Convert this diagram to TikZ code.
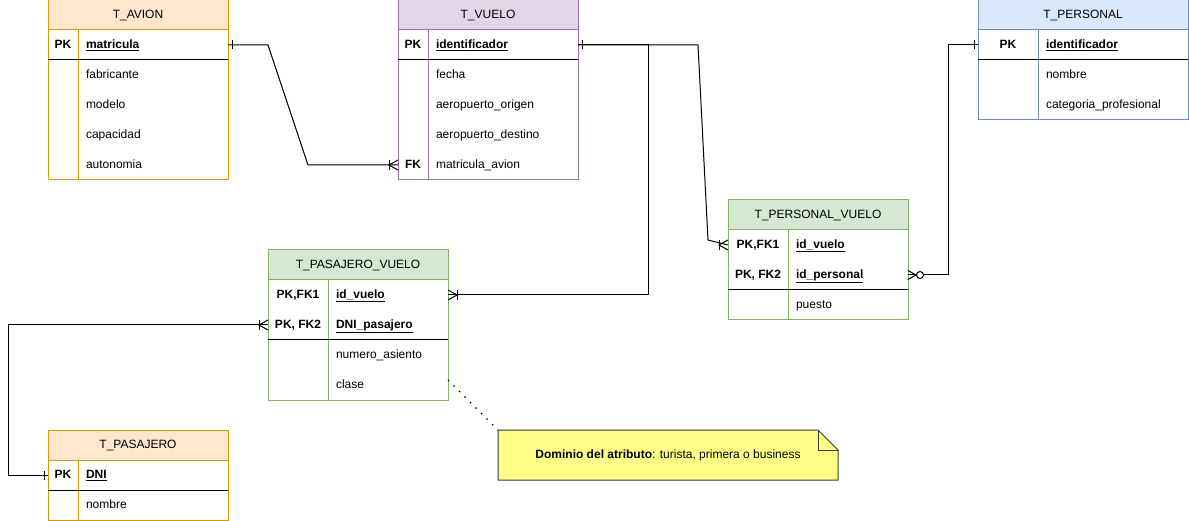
\documentclass[tikz,border=0pt]{standalone}
\usepackage{fontspec}
\setmainfont{Liberation Sans}
\usepackage{tikz}
\usetikzlibrary{positioning}
\definecolor{avionfill}{HTML}{FFE6CC}
\definecolor{avionline}{HTML}{D79B00}
\definecolor{vuelofill}{HTML}{E1D5E7}
\definecolor{vueloline}{HTML}{9673A6}
\definecolor{personalfill}{HTML}{DAE8FC}
\definecolor{personalline}{HTML}{6C8EBF}
\definecolor{relfill}{HTML}{D5E8D4}
\definecolor{relline}{HTML}{82B366}
\definecolor{notefill}{HTML}{FFFF88}
\definecolor{noteline}{HTML}{36393D}

\tikzset{
	erone/.pic={\draw (4,-4.5) -- (4,4.5);}, % one
	ermany/.pic={\draw (0,-5) -- (9,0) -- (0,5); \draw (9,-5) -- (9,5);}, % one to many
	erzeromany/.pic={\draw (0,-4.5) -- (8,0) -- (0,4.5); \draw[fill=white] (12,0) circle (3.5);} % zero to many
}

\begin{document}
\begin{tikzpicture}[x=1pt, y=-1pt, line width=1pt,
	font=\fontsize{12}{14}\selectfont,
	cell/.style={anchor=north west, inner sep=0pt, outer sep=0pt, minimum height=30, text height=8.5, text depth=1},
	head/.style={cell, draw},
	keycell/.style={cell, font=\fontsize{12}{14}\selectfont\bfseries},
	fieldcell/.style={cell, inner xsep=8, align=left},
	pkfield/.style={fieldcell, font=\fontsize{12}{14}\selectfont\bfseries}]

\useasboundingbox (0,0) rectangle (1189,521);

% T_AVION
\node[head, fill=avionfill, draw=avionline, minimum width=180] (avion) at (48,0) {T\_AVION};
\draw[avionline] (48,30) rectangle (228,180); % body
\draw[avionline] (78,30) -- (78,180); % key column
\node[keycell, minimum width=30] (avion pk) at (48,30) {PK};
\node[pkfield, text width=134] (avion matricula) at (78,30) {\underline{matricula}};
\draw (48,60) -- (228,60); % key line
\foreach \f [count=\i] in {fabricante, modelo, capacidad, autonomia}
	\node[fieldcell, text width=134] (avion f\i) at (78, 30+30*\i) {\f};

% T_VUELO
\node[head, fill=vuelofill, draw=vueloline, minimum width=180] (vuelo) at (398,0) {T\_VUELO};
\draw[vueloline] (398,30) rectangle (578,180);
\draw[vueloline] (428,30) -- (428,180);
\node[keycell, minimum width=30] (vuelo pk) at (398,30) {PK};
\node[pkfield, text width=134] (vuelo identificador) at (428,30) {\underline{identificador}};
\draw (398,60) -- (578,60);
\foreach \f [count=\i] in {fecha, aeropuerto\_origen, aeropuerto\_destino, matricula\_avion}
	\node[fieldcell, text width=134] (vuelo f\i) at (428, 30+30*\i) {\f};
\node[keycell, minimum width=30] (vuelo fk) at (398,150) {FK};

% T_PERSONAL
\node[head, fill=personalfill, draw=personalline, minimum width=210] (personal) at (978,0) {T\_PERSONAL};
\draw[personalline] (978,30) rectangle (1188,120);
\draw[personalline] (1038,30) -- (1038,120);
\node[keycell, minimum width=60] (personal pk) at (978,30) {PK};
\node[pkfield, text width=134] (personal identificador) at (1038,30) {\underline{identificador}};
\draw (978,60) -- (1188,60);
\foreach \f [count=\i] in {nombre, categoria\_profesional}
	\node[fieldcell, text width=134] (personal f\i) at (1038, 30+30*\i) {\f};

% T_PERSONAL_VUELO
\node[head, fill=relfill, draw=relline, minimum width=180] (personal vuelo) at (728,200) {T\_PERSONAL\_VUELO};
\draw[relline] (728,230) rectangle (908,320);
\draw[relline] (788,230) -- (788,320);
\node[keycell, minimum width=60] (pv fk1) at (728,230) {PK,FK1};
\node[keycell, minimum width=60] (pv fk2) at (728,260) {PK, FK2};
\node[pkfield, text width=104] (pv id vuelo) at (788,230) {\underline{id\_vuelo}};
\node[pkfield, text width=104] (pv id personal) at (788,260) {\underline{id\_personal}};
\draw (728,290) -- (908,290);
\node[fieldcell, text width=104] (pv puesto) at (788,290) {puesto};

% T_PASAJERO_VUELO
\node[head, fill=relfill, draw=relline, minimum width=180] (pasajero vuelo) at (268,250) {T\_PASAJERO\_VUELO};
\draw[relline] (268,280) rectangle (448,400);
\draw[relline] (328,280) -- (328,400);
\node[keycell, minimum width=60] (sv fk1) at (268,280) {PK,FK1};
\node[keycell, minimum width=60] (sv fk2) at (268,310) {PK, FK2};
\node[pkfield, text width=104] (sv id vuelo) at (328,280) {\underline{id\_vuelo}};
\node[pkfield, text width=104] (sv dni) at (328,310) {\underline{DNI\_pasajero}};
\draw (268,340) -- (448,340);
\node[fieldcell, text width=104] (sv asiento) at (328,340) {numero\_asiento};
\node[fieldcell, text width=104] (sv clase) at (328,370) {clase};

% T_PASAJERO
\node[head, fill=avionfill, draw=avionline, minimum width=180] (pasajero) at (48,430) {T\_PASAJERO};
\draw[avionline] (48,460) rectangle (228,520);
\draw[avionline] (78,460) -- (78,520);
\node[keycell, minimum width=30] (pasajero pk) at (48,460) {PK};
\node[pkfield, text width=134] (pasajero dni) at (78,460) {\underline{DNI}};
\draw (48,490) -- (228,490);
\node[fieldcell, text width=134] (pasajero nombre) at (78,490) {nombre};

% note
\draw[noteline, fill=notefill] (498,430) -- (818,430) -- (838,450) -- (838,480) -- (498,480) -- cycle;
\draw[noteline] (818,430) -- (818,450) -- (838,450); % fold
\node[minimum width=340, minimum height=50, inner sep=0pt, outer sep=0pt] (note) at (668,455) {\textbf{Dominio del atributo}: turista, primera o business};

% relations
\draw (avion matricula.east) -- (268,45) -- (308,165) -- (vuelo fk.west);
\draw (vuelo identificador.east) -- (698,45) -- (708,240) -- (pv fk1.west);
\draw (vuelo identificador.east) -| (648,295) -- (sv id vuelo.east);
\draw (personal pk.west) -| (948,275) -- (pv id personal.east);
\draw (pasajero pk.west) -| (8,325) -- (sv fk2.west);
\draw[line width=1.4pt, dash pattern=on 1.4pt off 6.4pt] ([yshift=5pt]sv clase.east) -- (note.north west);

\pic[rotate=180] at (vuelo fk.west) {ermany};
\pic at (avion matricula.east) {erone};
\pic[rotate=180] at (pv fk1.west) {ermany};
\pic at (vuelo identificador.east) {erone};
\pic at (sv id vuelo.east) {ermany};
\pic[rotate=180] at (personal pk.west) {erone};
\pic at (pv id personal.east) {erzeromany};
\pic[rotate=180] at (pasajero pk.west) {erone};
\pic[rotate=180] at (sv fk2.west) {ermany};

\end{tikzpicture}
\end{document}
